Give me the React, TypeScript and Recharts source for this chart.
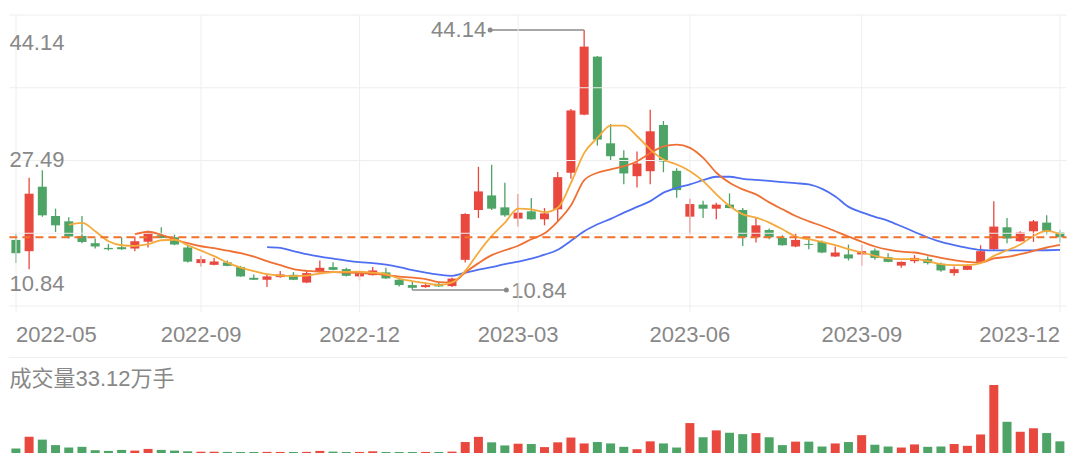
import { ComposedChart, BarChart, Bar, Line, XAxis, YAxis, ReferenceLine, Cell } from 'recharts';

const OPEN = [
  17.26, 15.82, 24.07, 20.32, 19.64, 17.77, 16.84, 16.24, 16.33, 16.16,
  17.03, 17.86, 17.6, 16.29, 14.29, 14.07, 14.38, 13.78, 12.41, 12.16,
  12.5, 12.79, 11.8, 13.18, 13.78, 13.52, 12.59, 12.75, 13.1, 12.16,
  11.48, 11.22, 11.64, 11.35, 14.71, 21.09, 22.96, 21.43, 19.99, 20.92,
  19.9, 21.18, 25.86, 33.3, 40.73, 29.63, 27.77, 25.42, 26.06, 31.98,
  26.11, 20.24, 21.78, 21.26, 21.78, 21.09, 17.6, 18.53, 17.51, 16.42,
  16.75, 17.0, 15.14, 15.4, 15.4, 15.91, 15.05, 13.97, 14.54, 14.8,
  14.2, 13.01, 13.43, 14.45, 16.07, 18.88, 17.09, 18.37, 19.48, 18.2,
];
const HIGH = [
  18.11, 25.22, 26.19, 21.26, 20.15, 20.32, 17.44, 16.75, 17.6, 17.69,
  18.43, 18.88, 17.95, 16.58, 15.22, 14.96, 14.63, 13.94, 12.84, 12.88,
  13.27, 13.14, 13.39, 14.63, 14.41, 13.69, 13.1, 13.78, 13.69, 12.41,
  11.99, 11.73, 11.82, 12.43, 20.66, 26.62, 26.88, 24.58, 23.13, 22.62,
  21.34, 25.96, 34.02, 44.14, 40.82, 32.11, 28.74, 28.57, 33.93, 32.49,
  26.44, 22.54, 22.29, 22.03, 23.22, 21.34, 20.18, 18.71, 17.86, 18.11,
  17.51, 17.18, 16.42, 16.67, 16.67, 16.16, 15.56, 14.5, 15.31, 15.14,
  14.38, 13.87, 14.12, 16.58, 22.2, 20.07, 18.37, 19.81, 20.41, 18.53,
];
const LOW = [
  14.29, 13.52, 20.24, 18.28, 17.44, 16.84, 16.16, 15.91, 15.98, 15.82,
  16.29, 17.47, 16.58, 14.38, 13.87, 14.03, 13.9, 12.54, 12.12, 11.22,
  12.41, 12.12, 11.73, 13.1, 13.39, 12.59, 12.08, 12.69, 12.25, 11.31,
  10.84, 11.13, 11.22, 11.22, 14.38, 20.07, 21.09, 20.24, 18.97, 19.84,
  19.13, 19.64, 25.09, 33.23, 29.34, 27.4, 24.4, 23.98, 24.4, 25.93,
  22.67, 17.95, 20.07, 19.9, 21.3, 16.49, 16.93, 17.35, 16.52, 16.33,
  16.07, 15.56, 15.08, 14.63, 13.94, 14.71, 14.41, 13.69, 14.29, 14.12,
  13.18, 12.67, 13.39, 14.38, 15.91, 16.84, 17.03, 17.0, 17.95, 16.93,
];
const CLOSE = [
  15.56, 23.18, 20.41, 19.13, 17.69, 17.0, 16.42, 16.07, 16.07, 17.09,
  18.28, 17.51, 16.67, 14.48, 14.8, 14.5, 13.94, 12.59, 12.16, 12.59,
  12.84, 12.16, 13.01, 13.69, 13.43, 12.67, 13.01, 13.35, 12.33, 11.48,
  11.13, 11.48, 11.31, 12.31, 20.58, 23.47, 21.26, 20.41, 20.75, 19.9,
  20.66, 25.3, 33.84, 42.01, 30.11, 27.98, 25.77, 27.04, 31.17, 27.3,
  23.64, 21.85, 21.26, 21.78, 21.34, 17.6, 19.13, 17.6, 16.58, 17.26,
  16.67, 15.65, 15.65, 14.89, 15.82, 14.96, 14.45, 14.45, 14.96, 14.29,
  13.35, 13.52, 13.94, 15.82, 18.97, 17.44, 18.2, 19.64, 18.37, 17.6,
];
const MA5 = [
  null, null, null, null, 19.2, 19.45, 18.37, 17.09, 16.58, 16.49,
  16.71, 17.22, 17.28, 16.58, 15.88, 15.18, 14.35, 13.71, 13.27, 12.88,
  12.69, 12.63, 12.69, 12.95, 13.14, 13.18, 13.2, 13.07, 12.88, 12.31,
  11.99, 11.73, 11.48, 11.82, 13.3, 15.65, 17.77, 19.48, 21.26, 21.18,
  20.83, 21.39, 24.58, 28.41, 30.32, 31.89, 31.89, 30.53, 28.83, 27.55,
  26.92, 26.06, 24.79, 23.09, 21.6, 20.54, 20.12, 19.48, 18.62, 17.69,
  17.35, 17.0, 16.58, 16.07, 15.65, 15.22, 14.89, 14.8, 14.8, 14.54,
  14.16, 14.03, 14.03, 14.29, 15.22, 15.94, 16.67, 17.77, 18.41, 17.99,
];
const MA10 = [
  null, null, null, null, null, null, null, null, null, 17.99,
  18.31, 17.92, 17.35, 16.84, 16.45, 16.2, 15.88, 15.56, 15.12, 14.54,
  14.03, 13.52, 13.3, 13.2, 13.14, 13.07, 13.01, 12.95, 12.76, 12.56,
  12.44, 12.24, 11.86, 11.82, 13.1, 14.29, 15.31, 15.94, 16.52, 17.35,
  18.11, 19.64, 21.69, 24.91, 25.86, 26.28, 26.7, 27.34, 28.38, 29.25,
  29.47, 29.05, 27.77, 25.86, 24.58, 23.73, 23.09, 22.07, 21.18, 20.32,
  19.64, 19.04, 18.37, 17.69, 17.03, 16.42, 16.01, 15.75, 15.65, 15.31,
  14.96, 14.67, 14.45, 14.38, 14.89, 15.09, 15.43, 15.86, 16.29, 16.62,
];
const MA20 = [
  null, null, null, null, null, null, null, null, null, null,
  null, null, null, null, null, null, null, null, null, 16.33,
  16.24, 15.82, 15.43, 15.12, 14.86, 14.61, 14.41, 14.29, 14.09, 13.78,
  13.39, 13.07, 12.82, 12.67, 13.07, 13.46, 13.78, 14.16, 14.48, 14.86,
  15.37, 16.01, 17.16, 18.37, 19.26, 19.96, 20.75, 21.49, 22.23, 23.31,
  23.94, 24.37, 24.91, 25.35, 25.35, 25.09, 24.94, 24.81, 24.66, 24.52,
  24.37, 23.79, 22.83, 21.49, 20.79, 20.22, 19.71, 19.01, 18.28, 17.57,
  17.0, 16.58, 16.24, 15.98, 15.91, 15.91, 15.91, 15.92, 15.94, 15.98,
];
// 成交量, 万手
const VOLUME = [
  2.19, 7.87, 6.51, 3.84, 2.67, 3.01, 1.36, 1.02, 1.51, 1.17,
  1.99, 1.51, 1.17, 0.83, 0.63, 0.63, 0.52, 0.48, 0.5, 0.55,
  0.52, 0.5, 0.55, 1.02, 0.68, 0.5, 0.52, 0.83, 0.5, 0.48,
  0.5, 0.52, 0.5, 0.68, 5.34, 7.87, 5.2, 3.69, 4.52, 4.37,
  2.87, 5.2, 7.53, 4.66, 5.34, 4.66, 3.01, 1.85, 5.68, 4.66,
  2.67, 14.57, 7.67, 11.02, 9.86, 9.18, 9.71, 7.67, 3.84, 5.54,
  5.54, 3.16, 4.66, 5.34, 8.69, 4.03, 3.16, 2.67, 4.18, 3.01,
  3.16, 4.37, 3.5, 9.03, 33.12, 15.2, 10.34, 12.04, 9.71, 5.68,
];
const TICK_INDEX = [0, 14, 26, 38, 51, 64, 79];
const TICK_LABELS = ['2022-05', '2022-09', '2022-12', '2023-03', '2023-06', '2023-09', '2023-12'];
const VOLUME_LABEL = '成交量33.12万手';

const RED = '#e9483f';
const GREEN = '#4da466';
const TEXT = '#888';
const GRID = '#eeeeee';
const FONT = "'Liberation Sans', Arial, 'Noto Sans CJK SC', sans-serif";

const PRICE_DOMAIN: [number, number] = [8.8, 46.06];
const GRID_Y = [0, 1, 2, 3, 4].map((k) => PRICE_DOMAIN[0] + ((PRICE_DOMAIN[1] - PRICE_DOMAIN[0]) * k) / 4);

const maxHigh = Math.max(...HIGH);
const minLow = Math.min(...LOW);
const maxIdx = HIGH.indexOf(maxHigh);
const minIdx = LOW.indexOf(minLow);
const midPrice = (maxHigh + minLow) / 2;
const lastClose = CLOSE[CLOSE.length - 1];

const rows = CLOSE.map((c, i) => ({
  i,
  range: [LOW[i], HIGH[i]],
  open: OPEN[i],
  high: HIGH[i],
  low: LOW[i],
  close: c,
  ma5: MA5[i],
  ma10: MA10[i],
  ma20: MA20[i],
  vol: VOLUME[i],
}));

const Candle = (props: any) => {
  const { x, y, width, height, payload, index } = props;
  if (x == null || !payload) return <g />;
  const top = Math.min(y, y + height);
  const h = Math.abs(height);
  const { open, close, high, low } = payload;
  const py = (v: number) => top + ((high - v) / (high - low)) * h;
  const color = close >= open ? RED : GREEN;
  const cx = x + width / 2;
  const bTop = py(Math.max(open, close));
  const bBot = py(Math.min(open, close));
  return (
    <g>
      <line x1={cx} x2={cx} y1={top} y2={top + h} stroke={color} strokeWidth={1.3} />
      <rect x={x} y={bTop} width={width} height={Math.max(bBot - bTop, 1)} fill={color} />
      {index === maxIdx && (
        <g>
          <line x1={cx} x2={cx - 94} y1={top} y2={top} stroke="#8a8a8a" strokeWidth={1.5} />
          <circle cx={cx - 94} cy={top} r={2.5} fill="#8a8a8a" />
          <text x={cx - 98} y={top + 7.5} textAnchor="end" fontSize={22} fill={TEXT} fontFamily={FONT}>
            {maxHigh.toFixed(2)}
          </text>
        </g>
      )}
      {index === minIdx && (
        <g>
          <line x1={cx} x2={cx + 94} y1={top + h} y2={top + h} stroke="#8a8a8a" strokeWidth={1.5} />
          <circle cx={cx + 94} cy={top + h} r={2.5} fill="#8a8a8a" />
          <text x={cx + 99} y={top + h + 7.5} textAnchor="start" fontSize={22} fill={TEXT} fontFamily={FONT}>
            {minLow.toFixed(2)}
          </text>
        </g>
      )}
    </g>
  );
};

const DateTick = (props: any) => {
  const { x, payload } = props;
  const k = TICK_INDEX.indexOf(payload.value);
  if (k < 0) return <g />;
  const anchor = k === 0 ? 'start' : k === TICK_INDEX.length - 1 ? 'end' : 'middle';
  return (
    <g>
      <line x1={x} x2={x} y1={306} y2={312} stroke={GRID} />
      <text x={x} y={342} textAnchor={anchor} fontSize={22} fill={TEXT} fontFamily={FONT}>
        {TICK_LABELS[k]}
      </text>
    </g>
  );
};

const sideLabel = (text: string, dy: number) => (p: any) => (
  <text x={p.viewBox.x} y={p.viewBox.y + dy} fontSize={22} fill={TEXT} fontFamily={FONT}>
    {text}
  </text>
);

export default function App() {
  return (
    <div style={{ position: 'absolute', left: 0, top: 0, width: 1080, height: 461, background: '#fff' }}>
      <div style={{ position: 'absolute', left: 0, top: 0 }}>
        <ComposedChart width={1080} height={346} data={rows} margin={{ top: 15, right: 13.4, bottom: 0, left: 9.4 }}>
          <XAxis dataKey="i" type="category" interval={0} axisLine={false} tickLine={false} height={40} tick={<DateTick />} />
          <YAxis hide type="number" domain={PRICE_DOMAIN} allowDataOverflow />
          {GRID_Y.map((v) => (
            <ReferenceLine key={`gy${v}`} y={v} stroke={GRID} strokeWidth={1} />
          ))}
          {TICK_INDEX.map((i) => (
            <ReferenceLine key={`gx${i}`} x={i} stroke={GRID} strokeWidth={1} />
          ))}
          <Bar dataKey="range" barSize={9} shape={Candle} isAnimationActive={false} />
          <Line dataKey="ma20" type="monotone" stroke="#4f6ff2" strokeWidth={1.8} dot={false} activeDot={false} isAnimationActive={false} />
          <Line dataKey="ma10" type="monotone" stroke="#f07034" strokeWidth={1.8} dot={false} activeDot={false} isAnimationActive={false} />
          <Line dataKey="ma5" type="monotone" stroke="#f5aa3c" strokeWidth={1.8} dot={false} activeDot={false} isAnimationActive={false} />
          <ReferenceLine y={lastClose} stroke="#f0722c" strokeWidth={2} strokeDasharray="8 5" />
          <ReferenceLine y={maxHigh} stroke="none" label={sideLabel(maxHigh.toFixed(2), 20)} />
          <ReferenceLine y={midPrice} stroke="none" label={sideLabel(midPrice.toFixed(2), 7)} />
          <ReferenceLine y={minLow} stroke="none" label={sideLabel(minLow.toFixed(2), 1)} />
        </ComposedChart>
      </div>
      <svg width={1080} height={40} style={{ position: 'absolute', left: 0, top: 357 }}>
        <line x1={9} x2={1067} y1={0.5} y2={0.5} stroke={GRID} />
        <text x={9.5} y={29} fontSize={22} fill={TEXT} fontFamily={FONT}>
          {VOLUME_LABEL}
        </text>
      </svg>
      <div style={{ position: 'absolute', left: 0, top: 357 }}>
        <BarChart width={1080} height={104} data={rows} margin={{ top: 28, right: 13.4, bottom: 8, left: 9.4 }}>
          <XAxis dataKey="i" type="category" hide />
          <YAxis hide type="number" domain={[0, Math.max(...VOLUME)]} />
          <Bar dataKey="vol" barSize={9} isAnimationActive={false}>
            {rows.map((r) => (
              <Cell key={r.i} fill={r.close >= r.open ? RED : GREEN} />
            ))}
          </Bar>
        </BarChart>
      </div>
    </div>
  );
}
